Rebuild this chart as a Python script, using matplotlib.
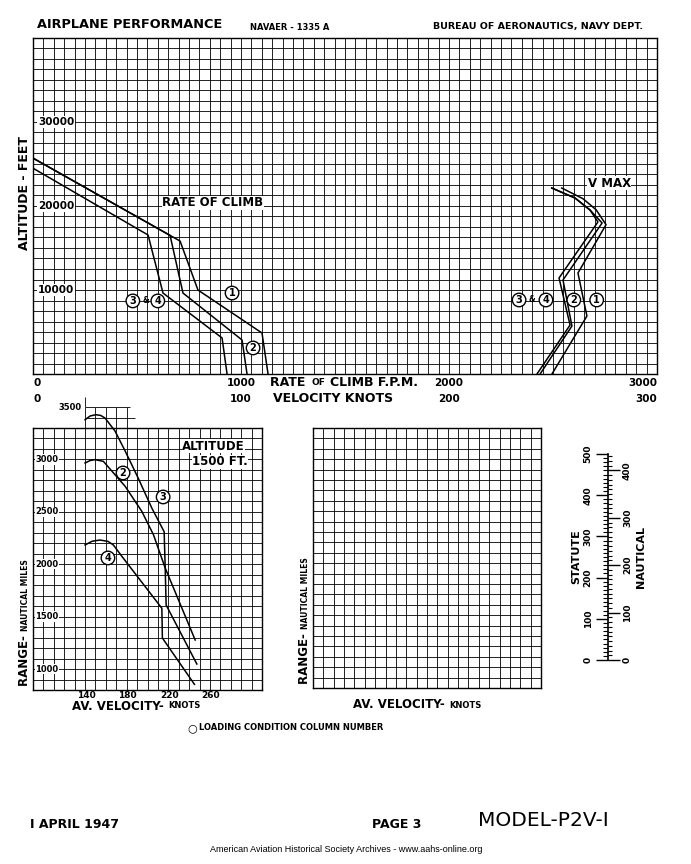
import numpy as np
import matplotlib.pyplot as plt
import matplotlib.transforms as mtransforms

W, H = 691, 864

# --- rate of climb (F.P.M.) vs altitude (ft), loading conditions 1, 2, 3&4 ---
roc_fpm_1 = [0, 707, 793, 1101, 1130]
roc_alt_1 = [25700, 15830, 10000, 4880, 0]
roc_fpm_2 = [0, 659, 721, 1005, 1029]
roc_alt_2 = [25700, 16500, 9640, 4050, 0]
roc_fpm_34 = [0, 553, 625, 909, 933]
roc_alt_34 = [24500, 16550, 9640, 4290, 0]

# --- V max (knots) vs altitude (ft) ---
vmax_kt_1 = [254.2, 264.4, 270.7, 275.5, 262.0, 266.3, 249.5]
vmax_alt_1 = [22140, 20870, 19560, 17780, 12020, 6900, 0]
vmax_kt_2 = [249.4, 260.6, 267.8, 273.6, 254.8, 259.1, 243.8]
vmax_alt_2 = [22140, 20950, 19520, 17980, 11190, 5710, 0]
vmax_kt_34 = [249.4, 260.6, 267.8, 271.6, 252.9, 258.2, 242.3]
vmax_alt_34 = [22140, 20950, 19520, 18100, 11430, 5830, 0]

# --- range (nautical miles) vs av. velocity (knots), altitude 1500 ft ---
rng_kt_3 = [140, 145, 150.3, 155, 159.2, 168.8, 178.5, 191, 204.1, 216, 217, 245.8]
rng_nm_3 = [3379, 3415, 3427, 3420, 3395, 3271, 3081, 2823, 2537, 2310, 1964, 1277]
rng_kt_2 = [140, 145, 149.6, 157.6, 168.8, 178.5, 194.5, 205.7, 217, 217.9, 247.4]
rng_nm_2 = [2966, 2990, 2998, 2982, 2854, 2744, 2505, 2282, 1964, 1611, 1048]
rng_kt_4 = [140, 147, 154.4, 162, 167.2, 176.8, 213.8, 214.3, 245.1]
rng_nm_4 = [2184, 2220, 2231, 2218, 2184, 2057, 1580, 1296, 854]

alt_ticks = [10000, 20000, 30000]
fpm_ticks = [0, 1000, 2000, 3000]
kt_ticks = [0, 100, 200, 300]
rng_ticks = [1000, 1500, 2000, 2500, 3000]
rng_kt_ticks = [140, 180, 220, 260]

BOLD = dict(fontweight='bold', family='DejaVu Sans')
LW = 1.1
GRID_LW = 0.65


def fx(px):
    return px / W


def fy(py):
    return 1 - py / H


def paper_grid(ax, xs, ys):
    ax.set_xticks(xs)
    ax.set_yticks(ys)
    ax.tick_params(length=0, labelbottom=False, labelleft=False)
    ax.grid(True, color='#111111', lw=GRID_LW)
    ax.set_axisbelow(True)
    for s in ax.spines.values():
        s.set_linewidth(1.0)


def circ(ax, x, y, s, **kw):
    ax.text(x, y, s, ha='center', va='center', fontsize=7, zorder=5,
            bbox=dict(boxstyle='circle,pad=0.18', fc='white', ec='black', lw=1.0), **BOLD, **kw)


fig = plt.figure(figsize=(W / 100, H / 100), dpi=100)
fig.patch.set_facecolor('white')

# ================= top chart: rate of climb / V max =================
ax = fig.add_axes([fx(33), fy(374), (657 - 33) / W, (374 - 38) / H])
ax.set_xlim(0, 3000)
ax.set_ylim(0, 40000)
paper_grid(ax, np.arange(0, 3001, 50), np.arange(0, 40001, 1250))
ax.plot(roc_fpm_1, roc_alt_1, color='black', lw=LW)
ax.plot(roc_fpm_2, roc_alt_2, color='black', lw=LW)
ax.plot(roc_fpm_34, roc_alt_34, color='black', lw=LW)

axv = ax.twiny()
axv.set_xlim(0, 300)
axv.axis('off')
axv.plot(vmax_kt_1, vmax_alt_1, color='black', lw=LW)
axv.plot(vmax_kt_2, vmax_alt_2, color='black', lw=LW)
axv.plot(vmax_kt_34, vmax_alt_34, color='black', lw=LW)

tr = mtransforms.blended_transform_factory(ax.transAxes, ax.transData)
for a in alt_ticks:
    ax.text(0.008, a, str(a), transform=tr, ha='left', va='center', fontsize=7.5,
            bbox=dict(fc='white', ec='none', pad=0.6), **BOLD)

ax.text(865, 20400, 'RATE OF CLIMB', ha='center', va='center', fontsize=8.5,
        bbox=dict(fc='white', ec='none', pad=0.3), **BOLD)
axv.text(277, 22700, 'V MAX', ha='center', va='center', fontsize=8.5,
         bbox=dict(fc='white', ec='none', pad=0.3), **BOLD)
circ(ax, 957, 9640, '1')
circ(ax, 1058, 3100, '2')
circ(ax, 480, 8700, '3')
ax.text(540, 8700, '&', ha='center', va='center', fontsize=5.5, **BOLD)
circ(ax, 600, 8700, '4')
circ(axv, 233.7, 8810, '3')
axv.text(240, 8810, '&', ha='center', va='center', fontsize=5.5, **BOLD)
circ(axv, 246.6, 8810, '4')
circ(axv, 260, 8810, '2')
circ(axv, 271, 8810, '1')

trx = mtransforms.blended_transform_factory(ax.transData, fig.transFigure)
for v, ha in zip(fpm_ticks, ['left', 'center', 'center', 'right']):
    ax.text(v, fy(383), str(v), transform=trx, ha=ha, va='center', fontsize=7.5, **BOLD)
for v, ha in zip(kt_ticks, ['left', 'center', 'center', 'right']):
    ax.text(v * 10, fy(399), str(v), transform=trx, ha=ha, va='center', fontsize=7.5, **BOLD)
fig.text(fx(270), fy(383), 'RATE ', ha='left', va='center', fontsize=9, **BOLD)
fig.text(fx(312), fy(383), 'OF', ha='left', va='center', fontsize=6.5, **BOLD)
fig.text(fx(330), fy(383), 'CLIMB F.P.M.', ha='left', va='center', fontsize=9, **BOLD)
fig.text(fx(333), fy(399), 'VELOCITY KNOTS', ha='center', va='center', fontsize=9, **BOLD)
fig.text(fx(25), fy(193), 'ALTITUDE - FEET', ha='center', va='center', rotation=90,
         fontsize=9, **BOLD)

# ================= bottom left: range =================
axr = fig.add_axes([fx(33), fy(690), (262 - 33) / W, (690 - 428) / H])
axr.set_xlim(90, 310)
axr.set_ylim(800, 3300)
paper_grid(axr, np.arange(90, 311, 10), np.arange(800, 3301, 100))
# grid extension above the frame for the top of curve 3
ext_x = [140, 150, 160, 170, 180]
axr.vlines(ext_x, 3300, 3500, color='#111111', lw=GRID_LW, clip_on=False)
axr.vlines(140, 3500, 3600, color='#111111', lw=GRID_LW, clip_on=False)
axr.hlines(3400, 140, 188, color='#111111', lw=GRID_LW, clip_on=False)
axr.hlines(3500, 140, 183, color='#111111', lw=GRID_LW, clip_on=False)
axr.plot(rng_kt_3, rng_nm_3, color='black', lw=LW, clip_on=False)
axr.plot(rng_kt_2, rng_nm_2, color='black', lw=LW)
axr.plot(rng_kt_4, rng_nm_4, color='black', lw=LW)

trr = mtransforms.blended_transform_factory(axr.transAxes, axr.transData)
for r in rng_ticks:
    axr.text(0.01, r, str(r), transform=trr, ha='left', va='center', fontsize=6,
             bbox=dict(fc='white', ec='none', pad=0.5), **BOLD)
axr.text(137, 3500, '3500', ha='right', va='center', fontsize=6, **BOLD)
trrx = mtransforms.blended_transform_factory(axr.transData, fig.transFigure)
for v in rng_kt_ticks:
    axr.text(v + 1, fy(695), str(v), transform=trrx, ha='center', va='center', fontsize=6.5, **BOLD)
axr.text(263, 3128, 'ALTITUDE', ha='center', va='center', fontsize=8.5,
         bbox=dict(fc='white', ec='none', pad=0.2), **BOLD)
axr.text(270, 2976, '1500 FT.', ha='center', va='center', fontsize=8.5,
         bbox=dict(fc='white', ec='none', pad=0.2), **BOLD)
circ(axr, 176.5, 2871, '2')
circ(axr, 215, 2642, '3')
circ(axr, 162, 2060, '4')


def vel_label(px_left, py):
    t = fig.text(fx(px_left), fy(py), 'AV. VELOCITY- ', ha='left', va='center', fontsize=8.5, **BOLD)
    fig.canvas.draw()
    bb = t.get_window_extent()
    fig.text(bb.x1 / W, fy(py), 'KNOTS', ha='left', va='center', fontsize=6, **BOLD)


def range_label(px, py_bottom):
    t = fig.text(fx(px), fy(py_bottom), 'RANGE- ', ha='center', va='bottom', rotation=90,
                 fontsize=8.5, **BOLD)
    fig.canvas.draw()
    bb = t.get_window_extent()
    fig.text(fx(px), bb.y1 / H, 'NAUTICAL MILES', ha='center', va='bottom', rotation=90,
             fontsize=5.5, **BOLD)


vel_label(72, 706)
range_label(25, 686)

# ================= bottom middle: blank grid =================
axm = fig.add_axes([fx(313), fy(688), (541 - 313) / W, (688 - 428) / H])
axm.set_xlim(90, 310)
axm.set_ylim(800, 3300)
paper_grid(axm, np.arange(90, 311, 10), np.arange(800, 3301, 100))
vel_label(353, 705)
range_label(305, 684)

# ================= statute / nautical scale =================
axs = fig.add_axes([fx(608), fy(660), 0.0005, (660 - 454) / H])
axs.set_ylim(0, 500)
axs.set_xticks([])
for s in ['top', 'bottom', 'right']:
    axs.spines[s].set_visible(False)
axs.spines['left'].set_linewidth(1.2)
axs.set_yticks(np.arange(0, 501, 100))
axs.set_yticks(np.arange(0, 501, 10), minor=True)
axs.tick_params(axis='y', which='major', length=9, width=1.0, labelsize=6.5, labelrotation=90, pad=2)
axs.tick_params(axis='y', which='minor', length=3.5, width=0.8)
for lab in axs.get_yticklabels():
    lab.set_fontweight('bold')
    lab.set_va('center')
st_per_nm = 1.15078
sec = axs.secondary_yaxis('right', functions=(lambda s: s / st_per_nm, lambda n: n * st_per_nm))
sec.set_yticks(np.arange(0, 401, 100))
sec.set_yticks(np.arange(0, 431, 10), minor=True)
sec.spines['right'].set_visible(False)
sec.tick_params(axis='y', which='major', length=8.5, width=1.0, labelsize=6.5, labelrotation=90, pad=2)
sec.tick_params(axis='y', which='minor', length=3, width=0.8)
for lab in sec.get_yticklabels():
    lab.set_fontweight('bold')
    lab.set_va('center')
fig.text(fx(576), fy(557), 'STATUTE', ha='center', va='center', rotation=90, fontsize=8, **BOLD)
fig.text(fx(641), fy(557), 'NAUTICAL', ha='center', va='center', rotation=90, fontsize=8, **BOLD)

# ================= page header / footer =================
fig.text(fx(37), fy(25), 'AIRPLANE PERFORMANCE', ha='left', va='center', fontsize=9.3, **BOLD)
fig.text(fx(250), fy(27), 'NAVAER - 1335 A', ha='left', va='center', fontsize=6, **BOLD)
fig.text(fx(643), fy(27), 'BUREAU OF AERONAUTICS, NAVY DEPT.', ha='right', va='center', fontsize=6.8, **BOLD)
fig.text(fx(187), fy(728), '\u25cb', ha='left', va='center', fontsize=8, family='DejaVu Sans')
fig.text(fx(199), fy(728), 'LOADING CONDITION COLUMN NUMBER', ha='left', va='center', fontsize=6, **BOLD)
fig.text(fx(30), fy(825), 'I APRIL 1947', ha='left', va='center', fontsize=9, **BOLD)
fig.text(fx(372), fy(824), 'PAGE 3', ha='left', va='center', fontsize=9, **BOLD)
fig.text(fx(478), fy(821), 'MODEL-P2V-I', ha='left', va='center', fontsize=14.5, family='DejaVu Sans')
fig.text(fx(346), fy(849), 'American Aviation Historical Society Archives - www.aahs-online.org',
         ha='center', va='center', fontsize=6.5, family='Liberation Sans')

fig.savefig('out.png', dpi=100)
